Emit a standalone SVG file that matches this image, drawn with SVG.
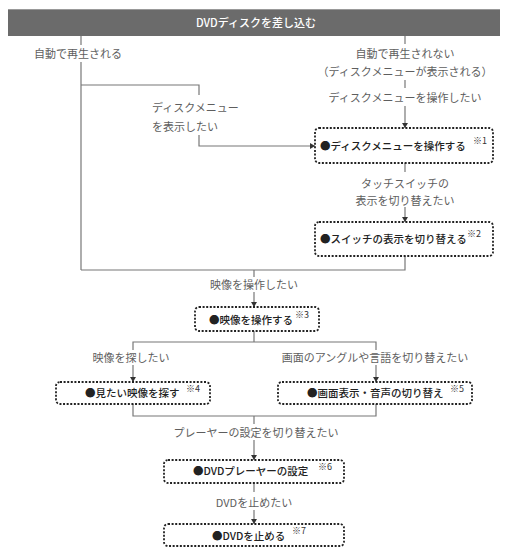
<svg xmlns="http://www.w3.org/2000/svg" width="506" height="557" viewBox="0 0 506 557">
<defs>
<marker id="ah" markerWidth="6" markerHeight="6" refX="5" refY="3" orient="auto" markerUnits="userSpaceOnUse">
<path d="M0,0 L5,3 L0,6 Z" fill="#333"/>
</marker>
</defs>
<style>
.ln{fill:none;stroke:#777;stroke-width:1.2}
.ar{fill:none;stroke:#777;stroke-width:1.2;marker-end:url(#ah)}
.lb{font-family:"Noto Sans CJK JP","Noto Sans",sans-serif;font-size:11px;fill:#5e5e5e}
.bx{fill:#fff;stroke:#222;stroke-width:1.8;stroke-dasharray:2 1.6}
.bt{font-family:"Noto Sans CJK JP","Noto Sans",sans-serif;font-size:10.5px;fill:#222;font-weight:500}
.sp{font-family:"Noto Sans CJK JP","Noto Sans",sans-serif;font-size:9px;fill:#333}
</style>
<rect width="506" height="557" fill="#fff"/>
<g id="header">
<rect x="8" y="9" width="492" height="27" fill="#6b6b6b"/>
<line x1="8" y1="9.5" x2="500" y2="9.5" stroke="#999" stroke-width="1"/>
<text x="256" y="27" text-anchor="middle" font-family="Noto Sans CJK JP,Noto Sans,sans-serif" font-size="11" font-weight="500" fill="#fff">DVDディスクを差し込む</text>
</g>
<g id="connectors">
<line class="ln" x1="81" y1="36" x2="81" y2="45"/>
<line class="ln" x1="81" y1="62" x2="81" y2="270"/>
<polyline class="ln" points="81,85 199,85 199,95"/>
<polyline class="ar" points="199,135 199,146 315,146"/>
<line class="ln" x1="405" y1="36" x2="405" y2="44"/>
<line class="ln" x1="405" y1="80" x2="405" y2="88"/>
<line class="ar" x1="405" y1="106" x2="405" y2="128"/>
<line class="ln" x1="405" y1="163" x2="405" y2="172"/>
<line class="ar" x1="405" y1="207" x2="405" y2="222"/>
<polyline class="ln" points="405,256 405,270 81,270"/>
<line class="ln" x1="254" y1="270" x2="254" y2="277"/>
<line class="ar" x1="254" y1="292" x2="254" y2="307"/>
<line class="ln" x1="254" y1="331" x2="254" y2="342"/>
<polyline class="ln" points="133,350 133,342 376,342 376,350"/>
<line class="ar" x1="133" y1="365" x2="133" y2="382"/>
<line class="ar" x1="376" y1="365" x2="376" y2="382"/>
<polyline class="ln" points="133,404 133,416 376,416 376,404"/>
<line class="ln" x1="254" y1="416" x2="254" y2="424"/>
<line class="ar" x1="254" y1="440" x2="254" y2="460"/>
<line class="ln" x1="254" y1="483" x2="254" y2="492"/>
<line class="ar" x1="254" y1="510" x2="254" y2="524"/>
</g>
<g id="labels">
<text class="lb" x="78" y="58" text-anchor="middle">自動で再生される</text>
<text class="lb" x="405" y="58" text-anchor="middle">自動で再生されない</text>
<text class="lb" x="405" y="76" text-anchor="middle">（ディスクメニューが表示される）</text>
<text class="lb" x="405" y="102" text-anchor="middle">ディスクメニューを操作したい</text>
<text class="lb" x="152" y="112">ディスクメニュー</text>
<text class="lb" x="152" y="131">を表示したい</text>
<text class="lb" x="405" y="188" text-anchor="middle">タッチスイッチの</text>
<text class="lb" x="405" y="205" text-anchor="middle">表示を切り替えたい</text>
<text class="lb" x="254" y="289" text-anchor="middle">映像を操作したい</text>
<text class="lb" x="131" y="362" text-anchor="middle">映像を探したい</text>
<text class="lb" x="375" y="362" text-anchor="middle">画面のアングルや言語を切り替えたい</text>
<text class="lb" x="256" y="437" text-anchor="middle">プレーヤーの設定を切り替えたい</text>
<text class="lb" x="254" y="507" text-anchor="middle">DVDを止めたい</text>
</g>
<g id="box1">
<rect class="bx" x="315" y="128" width="178" height="35" rx="4"/>
<text class="bt" x="320" y="150">●ディスクメニューを操作する</text>
<text class="sp" x="473" y="144">※1</text>
</g>
<g id="box2">
<rect class="bx" x="315" y="222" width="178" height="34" rx="4"/>
<text class="bt" x="320" y="243">●スイッチの表示を切り替える</text>
<text class="sp" x="467" y="237">※2</text>
</g>
<g id="box3">
<rect class="bx" x="195" y="307" width="124" height="24" rx="4"/>
<text class="bt" x="209" y="324">●映像を操作する</text>
<text class="sp" x="295" y="318">※3</text>
</g>
<g id="box4">
<rect class="bx" x="56" y="382" width="154" height="22" rx="4"/>
<text class="bt" x="85" y="397">●見たい映像を探す</text>
<text class="sp" x="186" y="392">※4</text>
</g>
<g id="box5">
<rect class="bx" x="278" y="382" width="194" height="22" rx="4"/>
<text class="bt" x="307" y="397">●画面表示・音声の切り替え</text>
<text class="sp" x="450" y="392">※5</text>
</g>
<g id="box6">
<rect class="bx" x="164" y="460" width="180" height="23" rx="4"/>
<text class="bt" x="193" y="475">●DVDプレーヤーの設定</text>
<text class="sp" x="318" y="470">※6</text>
</g>
<g id="box7">
<rect class="bx" x="164" y="524" width="180" height="22" rx="4"/>
<text class="bt" x="212" y="540">●DVDを止める</text>
<text class="sp" x="292" y="534">※7</text>
</g>
</svg>
